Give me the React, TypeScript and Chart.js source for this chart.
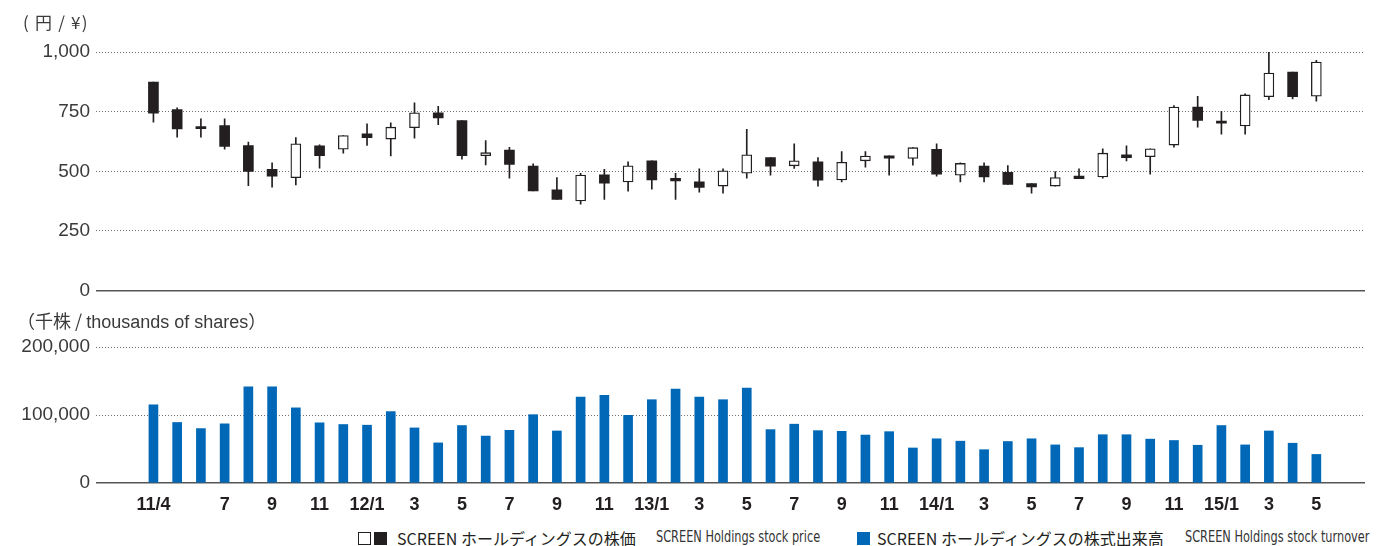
import React, { useEffect, useRef } from 'react';
import { Chart, registerables } from 'chart.js';

Chart.register(...registerables);

const months = [
  '11/4', '11/5', '11/6', '11/7', '11/8', '11/9', '11/10', '11/11', '11/12',
  '12/1', '12/2', '12/3', '12/4', '12/5', '12/6', '12/7', '12/8', '12/9', '12/10', '12/11', '12/12',
  '13/1', '13/2', '13/3', '13/4', '13/5', '13/6', '13/7', '13/8', '13/9', '13/10', '13/11', '13/12',
  '14/1', '14/2', '14/3', '14/4', '14/5', '14/6', '14/7', '14/8', '14/9', '14/10', '14/11', '14/12',
  '15/1', '15/2', '15/3', '15/4', '15/5',
];

const tickLabels = [
  '11/4', '', '', '7', '', '9', '', '11', '',
  '12/1', '', '3', '', '5', '', '7', '', '9', '', '11', '',
  '13/1', '', '3', '', '5', '', '7', '', '9', '', '11', '',
  '14/1', '', '3', '', '5', '', '7', '', '9', '', '11', '',
  '15/1', '', '3', '', '5',
];

const openPrices = [
  874, 759, 682, 692, 608, 508, 473, 607, 593,
  657, 635, 683, 745, 713, 565, 589, 522, 422, 376, 485, 455,
  544, 471, 456, 438, 492, 557, 523, 540, 464, 544, 565, 554,
  592, 484, 522, 496, 449, 438, 480, 476, 569, 561, 610, 769,
  706, 690, 813, 916, 815,
];
const highPrices = [
  874, 766, 720, 720, 622, 536, 641, 611, 650,
  699, 703, 787, 772, 713, 629, 600, 531, 474, 491, 508, 540,
  544, 491, 510, 510, 676, 557, 615, 558, 583, 583, 565, 599,
  615, 536, 536, 524, 449, 499, 510, 594, 607, 594, 775, 814,
  751, 825, 1000, 916, 965,
];
const lowPrices = [
  706, 643, 643, 593, 440, 434, 443, 513, 576,
  608, 564, 639, 695, 551, 527, 471, 418, 382, 362, 382, 417,
  425, 382, 413, 408, 471, 484, 512, 438, 455, 517, 484, 526,
  480, 455, 455, 445, 408, 438, 469, 471, 543, 488, 601, 685,
  656, 656, 800, 803, 794,
];
const closePrices = [
  744, 678, 679, 604, 499, 480, 615, 565, 650,
  641, 685, 745, 724, 565, 578, 529, 418, 382, 484, 450, 523,
  464, 460, 432, 502, 569, 522, 544, 463, 538, 564, 555, 599,
  488, 533, 476, 445, 435, 474, 469, 576, 557, 594, 769, 713,
  702, 820, 912, 813, 958,
];

const turnover = [
  115000, 89000, 80000, 87000, 141500, 141500, 110500, 88500, 86000,
  85000, 105000, 81000, 59000, 84500, 69000, 77500, 100500, 76500, 126500, 129000, 99500,
  122500, 138000, 126500, 122500, 139500, 78500, 86500, 77000, 76000, 70500, 75500, 51500,
  65000, 61500, 49000, 61000, 65000, 56000, 52000, 71000, 71000, 64500, 62500, 55500,
  84500, 56000, 76500, 58500, 42000,
];

const priceTicks = [0, 250, 500, 750, 1000];
const turnoverTicks = [0, 100000, 200000];

const INK = '#231f20';
const BLUE = '#0068b7';
const GRID = '#707070';
const AXIS = '#555555';
const LABEL = '#3a3a3a';

const X_MIN = -2.42;
const X_MAX = 51.05;

function yGrid() {
  return {
    drawTicks: false,
    color: (ctx: any) => (ctx.tick && ctx.tick.value === 0 ? AXIS : GRID),
    lineWidth: (ctx: any) => (ctx.tick && ctx.tick.value === 0 ? 1.6 : 1),
  };
}
function yBorder() {
  return {
    display: false,
    dash: (ctx: any) => (ctx.tick && ctx.tick.value === 0 ? [] : [1, 2]),
  };
}

export default function App() {
  const topRef = useRef<HTMLCanvasElement>(null);
  const botRef = useRef<HTMLCanvasElement>(null);

  useEffect(() => {
    document.body.style.margin = '0';
    Chart.defaults.font.family = '"Liberation Sans", Arial, "Noto Sans CJK JP", sans-serif';

    const isUp = (i: number) => closePrices[i] > openPrices[i];

    const top = new Chart(topRef.current as HTMLCanvasElement, {
      type: 'bar',
      data: {
        datasets: [
          {
            label: 'body',
            data: months.map((_, i) => ({ x: i, y: [openPrices[i], closePrices[i]] })) as any,
            backgroundColor: months.map((_, i) => (isUp(i) ? '#ffffff' : INK)),
            borderColor: INK,
            borderWidth: months.map((_, i) => (isUp(i) ? 1.3 : 0)) as any,
            borderSkipped: false,
            barThickness: 10,
            minBarLength: 2,
            grouped: false,
            order: 0,
          },
          {
            label: 'wick',
            data: months.map((_, i) => ({ x: i, y: [lowPrices[i], highPrices[i]] })) as any,
            backgroundColor: INK,
            borderWidth: 0,
            barThickness: 1,
            grouped: false,
            order: 1,
          },
        ],
      },
      options: {
        responsive: false,
        animation: false,
        layout: { padding: { top: 52, bottom: 2, right: 31, left: 0 } },
        plugins: { legend: { display: false }, tooltip: { enabled: false } },
        scales: {
          x: {
            type: 'linear',
            min: X_MIN,
            max: X_MAX,
            offset: false,
            display: false,
          },
          y: {
            min: 0,
            max: 1000,
            afterBuildTicks: (scale: any) => {
              scale.ticks = priceTicks.map((v) => ({ value: v }));
            },
            afterFit: (scale: any) => {
              scale.width = 96;
            },
            ticks: {
              padding: 6,
              color: LABEL,
              font: { size: 19 },
              callback: (v: any) => Number(v).toLocaleString('en-US'),
            },
            grid: yGrid() as any,
            border: yBorder() as any,
          },
        },
      },
    });

    const bottom = new Chart(botRef.current as HTMLCanvasElement, {
      type: 'bar',
      data: {
        datasets: [
          {
            label: 'turnover',
            data: months.map((_, i) => ({ x: i, y: turnover[i] })) as any,
            backgroundColor: BLUE,
            borderWidth: 0,
            barThickness: 9,
            grouped: false,
          },
        ],
      },
      options: {
        responsive: false,
        animation: false,
        layout: { padding: { top: 47, bottom: 0, right: 31, left: 0 } },
        plugins: { legend: { display: false }, tooltip: { enabled: false } },
        scales: {
          x: {
            type: 'linear',
            min: X_MIN,
            max: X_MAX,
            offset: false,
            afterBuildTicks: (scale: any) => {
              scale.ticks = tickLabels
                .map((l, i) => (l ? { value: i } : null))
                .filter((t) => t !== null);
            },
            afterFit: (scale: any) => {
              scale.height = 37;
            },
            grid: { display: false, drawTicks: false },
            border: { display: false },
            ticks: {
              autoSkip: false,
              maxRotation: 0,
              minRotation: 0,
              padding: 11,
              color: INK,
              font: { size: 18, weight: 'bold' },
              callback: (v: any) => tickLabels[Math.round(Number(v))] ?? '',
            },
          },
          y: {
            min: 0,
            max: 200000,
            afterBuildTicks: (scale: any) => {
              scale.ticks = turnoverTicks.map((v) => ({ value: v }));
            },
            afterFit: (scale: any) => {
              scale.width = 96;
            },
            ticks: {
              padding: 6,
              color: LABEL,
              font: { size: 19 },
              callback: (v: any) => Number(v).toLocaleString('en-US'),
            },
            grid: yGrid() as any,
            border: yBorder() as any,
          },
        },
      },
    });

    return () => {
      top.destroy();
      bottom.destroy();
    };
  }, []);

  const jp = '"Noto Sans CJK JP", "Liberation Sans", sans-serif';
  const narrow = '"Liberation Sans Narrow", "DejaVu Sans Condensed", "Liberation Sans", sans-serif';

  const abs = (extra: React.CSSProperties): React.CSSProperties => ({
    position: 'absolute',
    whiteSpace: 'nowrap',
    lineHeight: 1,
    ...extra,
  });

  return (
    <div style={{ position: 'relative', width: 1396, height: 546, background: '#fff', overflow: 'hidden' }}>
      <canvas ref={topRef} width={1396} height={308} style={{ position: 'absolute', left: 0, top: 0 }} />
      <canvas ref={botRef} width={1396} height={220} style={{ position: 'absolute', left: 0, top: 300 }} />

      <div style={abs({ left: 23, top: 13, fontSize: 17, letterSpacing: 1.2, color: LABEL, fontFamily: jp })}>( 円 / ¥)</div>
      <div style={abs({ left: 17, top: 311, fontSize: 18, color: LABEL, fontFamily: jp })}>
        （千株 / <span style={{ fontFamily: '"Liberation Sans", sans-serif' }}>thousands of shares</span>）
      </div>

      {/* legend 1 */}
      <div style={abs({ left: 358, top: 532, width: 11, height: 11, border: `1.5px solid ${INK}`, background: '#fff' })} />
      <div style={abs({ left: 374, top: 532, width: 13, height: 13, background: INK })} />
      <div style={abs({ left: 397, top: 530, fontSize: 16, color: INK, fontFamily: jp })}>SCREEN ホールディングスの株価</div>
      <div style={abs({ left: 656, top: 530, fontSize: 15, color: '#333', fontFamily: narrow, transform: 'scaleX(0.84)', transformOrigin: 'left center' })}>SCREEN Holdings stock price</div>

      {/* legend 2 */}
      <div style={abs({ left: 857, top: 532, width: 13, height: 13, background: BLUE })} />
      <div style={abs({ left: 877, top: 530, fontSize: 16, color: INK, fontFamily: jp })}>SCREEN ホールディングスの株式出来高</div>
      <div style={abs({ left: 1185, top: 530, fontSize: 15, color: '#333', fontFamily: narrow, transform: 'scaleX(0.84)', transformOrigin: 'left center' })}>SCREEN Holdings stock turnover</div>
    </div>
  );
}
